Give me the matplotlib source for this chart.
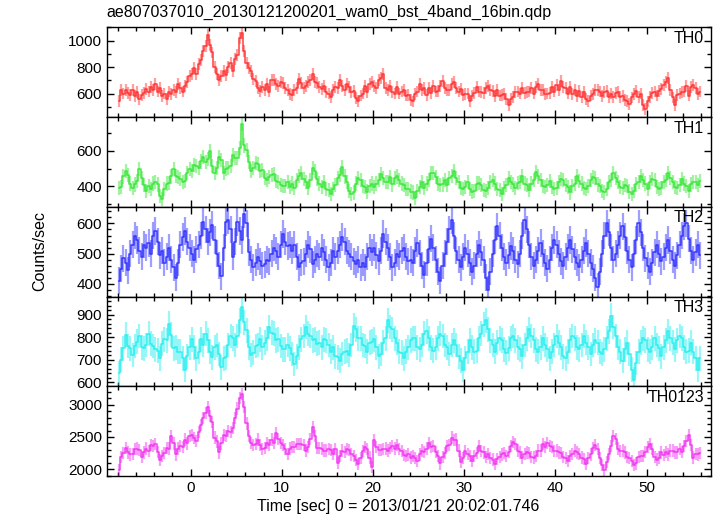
import numpy as np
import matplotlib.pyplot as plt
from matplotlib.ticker import MultipleLocator

plt.rcParams["font.family"] = ["Liberation Sans", "DejaVu Sans"]

# light curve bins: 0.25 s starting at t = -8 s (0 = 2013/01/21 20:02:01.746)
t_start = -8.0
bin_width = 0.25

th0 = [
    545, 625, 600, 630, 605, 590, 625, 580, 610, 555, 590, 605, 635, 615, 650, 625,
    670, 615, 640, 580, 600, 560, 615, 595, 630, 610, 670, 640, 615, 655, 690, 735,
    745, 790, 750, 820, 850, 920, 960, 1040, 970, 910, 800, 750, 700, 735, 770, 740,
    800, 830, 770, 860, 890, 1020, 1060, 920, 830, 790, 770, 710, 695, 640, 620, 650,
    630, 675, 615, 700, 705, 670, 655, 690, 680, 645, 625, 595, 590, 625, 640, 710,
    680, 640, 660, 690, 705, 745, 690, 680, 650, 635, 660, 610, 600, 575, 625, 650,
    640, 700, 655, 630, 675, 650, 610, 620, 565, 545, 585, 600, 655, 610, 675, 690,
    660, 640, 700, 715, 745, 640, 625, 655, 610, 600, 650, 600, 615, 630, 585, 590,
    550, 540, 595, 615, 670, 625, 640, 590, 640, 605, 660, 615, 620, 655, 695, 640,
    630, 625, 670, 690, 640, 615, 635, 590, 595, 600, 545, 585, 605, 650, 615, 610,
    605, 640, 655, 630, 620, 580, 630, 585, 590, 595, 560, 515, 560, 575, 610, 615,
    600, 640, 605, 610, 615, 640, 600, 650, 675, 630, 625, 595, 600, 605, 650, 615,
    665, 630, 695, 650, 640, 600, 650, 595, 625, 580, 620, 575, 610, 560, 545, 585,
    595, 630, 625, 615, 580, 610, 620, 570, 600, 575, 605, 615, 575, 580, 550, 545,
    520, 570, 595, 620, 575, 600, 515, 480, 540, 575, 605, 615, 585, 620, 635, 665,
    685, 720, 630, 570, 515, 590, 600, 610, 615, 660, 585, 650, 665, 645, 595, 615,
]

th1 = [
    390, 395, 455, 485, 465, 415, 390, 410, 430, 495, 445, 405, 375, 400, 385, 415,
    425, 410, 345, 330, 385, 415, 420, 455, 495, 460, 450, 440, 425, 430, 475, 495,
    485, 520, 515, 505, 540, 565, 535, 555, 600, 515, 475, 505, 565, 550, 475, 500,
    505, 515, 575, 560, 560, 615, 750, 630, 605, 535, 485, 505, 530, 525, 485, 490,
    445, 435, 450, 465, 470, 430, 425, 405, 400, 400, 425, 395, 415, 390, 435, 460,
    475, 440, 425, 390, 435, 505, 485, 440, 415, 395, 425, 385, 380, 355, 385, 405,
    445, 465, 510, 455, 425, 375, 355, 365, 415, 445, 435, 400, 395, 370, 400, 415,
    395, 415, 435, 470, 445, 425, 425, 450, 410, 445, 455, 435, 415, 405, 385, 385,
    370, 365, 335, 375, 395, 425, 390, 415, 435, 475, 475, 450, 415, 405, 410, 435,
    405, 445, 460, 485, 445, 425, 390, 385, 395, 425, 385, 370, 375, 415, 420, 405,
    380, 375, 390, 425, 435, 415, 385, 380, 355, 390, 405, 445, 425, 410, 390, 420,
    425, 460, 415, 405, 380, 415, 435, 480, 455, 435, 400, 395, 405, 430, 395, 385,
    390, 425, 440, 435, 405, 395, 365, 400, 415, 455, 430, 415, 390, 385, 400, 435,
    450, 445, 410, 400, 375, 365, 385, 425, 435, 475, 445, 425, 395, 390, 405, 400,
    370, 355, 375, 410, 425, 460, 435, 415, 385, 425, 440, 435, 395, 385, 390, 425,
    435, 475, 445, 425, 395, 390, 405, 440, 415, 400, 375, 410, 425, 425, 405, 430,
]

th2 = [
    410, 450, 485, 470, 445, 500, 530, 560, 545, 510, 490, 530, 520, 535, 500, 560,
    575, 540, 495, 510, 470, 490, 520, 480, 455, 420, 470, 530, 555, 575, 540, 520,
    500, 480, 515, 530, 560, 605, 580, 540, 570, 595, 545, 500, 460, 425, 520, 605,
    610, 580, 490, 540, 605, 575, 545, 630, 600, 505, 480, 455, 470, 490, 475, 460,
    465, 480, 475, 500, 520, 510, 490, 530, 565, 540, 525, 530, 510, 530, 490, 455,
    470, 475, 500, 530, 515, 465, 480, 500, 490, 520, 505, 480, 455, 470, 510, 490,
    510, 530, 555, 540, 510, 500, 490, 475, 465, 480, 455, 470, 455, 490, 520, 505,
    520, 495, 475, 510, 565, 540, 520, 490, 455, 470, 500, 490, 510, 520, 490, 475,
    480, 470, 510, 535, 500, 460, 430, 470, 515, 550, 520, 480, 440, 410, 460, 500,
    540, 580, 610, 560, 510, 480, 455, 490, 520, 500, 470, 440, 460, 500, 530, 505,
    480, 420, 380, 440, 500, 545, 590, 560, 520, 490, 470, 495, 525, 510, 480, 465,
    500, 560, 610, 580, 530, 490, 460, 480, 510, 535, 500, 470, 450, 480, 520, 545,
    530, 500, 475, 460, 490, 520, 545, 515, 490, 470, 455, 480, 510, 535, 500, 470,
    450, 420, 390, 440, 500, 560, 600, 570, 520, 480, 500, 530, 560, 590, 555, 510,
    480, 455, 500, 545, 600, 570, 520, 485, 460, 440, 470, 505, 530, 500, 475, 490,
    520, 545, 510, 480, 460, 495, 530, 560, 590, 600, 550, 510, 480, 505, 530, 495,
]

th3 = [
    640, 700, 750, 810, 760, 750, 720, 760, 780, 805, 755, 750, 765, 815, 770, 760,
    745, 740, 705, 770, 790, 785, 860, 810, 750, 755, 735, 735, 705, 655, 715, 755,
    790, 755, 705, 735, 790, 765, 815, 785, 735, 710, 755, 765, 725, 665, 705, 710,
    765, 805, 795, 765, 805, 875, 935, 865, 830, 755, 720, 730, 760, 765, 790, 755,
    775, 795, 845, 820, 815, 785, 790, 760, 745, 745, 765, 750, 725, 680, 715, 755,
    790, 805, 845, 815, 805, 785, 790, 770, 775, 755, 790, 785, 765, 735, 755, 715,
    710, 695, 725, 735, 740, 720, 765, 850, 835, 795, 795, 765, 760, 735, 775, 780,
    790, 755, 715, 725, 775, 795, 875, 845, 835, 795, 775, 735, 730, 705, 735, 755,
    785, 795, 795, 755, 745, 765, 815, 825, 795, 755, 740, 755, 795, 815, 805, 765,
    755, 725, 765, 785, 765, 715, 695, 655, 705, 735, 785, 755, 735, 740, 795, 815,
    855, 875, 835, 785, 765, 735, 775, 795, 785, 745, 730, 750, 795, 805, 785, 755,
    745, 715, 765, 795, 835, 805, 785, 745, 735, 755, 795, 765, 745, 705, 735, 765,
    805, 775, 755, 715, 705, 735, 785, 805, 795, 755, 745, 765, 805, 775, 755, 725,
    765, 785, 775, 735, 725, 745, 795, 825, 895, 845, 805, 755, 735, 695, 745, 775,
    725, 655, 610, 685, 735, 775, 795, 785, 745, 735, 755, 795, 765, 750, 715, 755,
    785, 825, 795, 775, 745, 785, 805, 795, 755, 735, 740, 775, 735, 705, 655, 705,
]

th0123 = [
    1990, 2190, 2250, 2330, 2260, 2230, 2240, 2310, 2320, 2300, 2190, 2260, 2320, 2280, 2370, 2360,
    2390, 2270, 2140, 2210, 2250, 2330, 2320, 2510, 2400, 2230, 2320, 2360, 2340, 2460, 2400, 2520,
    2530, 2480, 2440, 2580, 2690, 2800, 2870, 2970, 2820, 2730, 2490, 2430, 2260, 2400, 2530, 2520,
    2590, 2580, 2640, 2790, 2940, 3110, 3170, 2960, 2710, 2520, 2410, 2370, 2390, 2460, 2370, 2310,
    2330, 2410, 2370, 2460, 2410, 2560, 2470, 2410, 2370, 2310, 2240, 2320, 2340, 2340, 2390, 2390,
    2390, 2370, 2290, 2350, 2470, 2660, 2510, 2330, 2330, 2320, 2290, 2290, 2310, 2300, 2240, 2310,
    2100, 2210, 2290, 2270, 2310, 2300, 2230, 2210, 2140, 2080, 2170, 2280, 2340, 2310, 2180, 2040,
    2450, 2340, 2300, 2300, 2310, 2320, 2290, 2330, 2360, 2320, 2380, 2310, 2280, 2220, 2200, 2230,
    2180, 2200, 2170, 2130, 2230, 2290, 2270, 2320, 2410, 2350, 2360, 2270, 2210, 2090, 2190, 2250,
    2360, 2370, 2490, 2450, 2460, 2290, 2110, 2170, 2280, 2240, 2210, 2130, 2210, 2250, 2360, 2280,
    2260, 2190, 2240, 2170, 2150, 2080, 2160, 2190, 2230, 2250, 2210, 2270, 2360, 2420, 2390, 2290,
    2260, 2180, 2240, 2260, 2250, 2190, 2180, 2210, 2290, 2290, 2390, 2340, 2410, 2360, 2340, 2280,
    2290, 2260, 2250, 2190, 2170, 2130, 2210, 2240, 2290, 2260, 2240, 2180, 2160, 2080, 2170, 2230,
    2330, 2370, 2310, 2170, 2060, 1990, 2110, 2240, 2360, 2520, 2470, 2320, 2280, 2290, 2260, 2190,
    2170, 2130, 2070, 2090, 2190, 2210, 2210, 2270, 2350, 2390, 2310, 2190, 2150, 2180, 2260, 2220,
    2270, 2230, 2290, 2290, 2260, 2260, 2310, 2270, 2360, 2440, 2530, 2370, 2180, 2240, 2230, 2250,
]

bands = ["TH0", "TH1", "TH2", "TH3", "TH0123"]
rates = [th0, th1, th2, th3, th0123]
errors = [45, 40, 45, 55, 95]  # typical 1-sigma error per band (counts/sec)
colors = ["#ff2a2a", "#33e633", "#2a2aff", "#22eeee", "#f02ff0"]
ylims = [(422, 1100), (284, 790), (358, 655), (581, 980), (1895, 3286)]
major_step = [200, 200, 100, 100, 500]
minor_step = [100, 100, 20, 20, 100]


def main():
    fig = plt.figure(figsize=(7.17, 5.16), dpi=100)
    axes = fig.subplots(5, 1, sharex=True, gridspec_kw=dict(hspace=0))
    fig.subplots_adjust(left=0.149, right=0.992, top=0.947, bottom=0.0775)

    for i, ax in enumerate(axes):
        y = np.array(rates[i], dtype=float)
        t = t_start + bin_width / 2 + bin_width * np.arange(len(y))
        err = errors[i]
        c = colors[i]

        # pale error bars, then the binned rate as a step line
        ax.vlines(t, y - err, y + err, color=c, alpha=0.45, lw=1.6)
        ax.plot(t, y, drawstyle="steps-mid", color=c, lw=1.1, alpha=0.9)

        ax.set_ylim(*ylims[i])
        ax.set_xlim(-9.2, 57.1)
        ax.yaxis.set_major_locator(MultipleLocator(major_step[i]))
        ax.yaxis.set_minor_locator(MultipleLocator(minor_step[i]))
        ax.xaxis.set_major_locator(MultipleLocator(10))
        ax.xaxis.set_minor_locator(MultipleLocator(2))
        ax.tick_params(which="both", direction="in", top=True, right=True,
                       labelsize=11, width=1.0)
        ax.tick_params(which="major", length=5)
        ax.tick_params(which="minor", length=2.8)
        for s in ax.spines.values():
            s.set_linewidth(1.0)

        ax.text(0.988, 0.96, bands[i], transform=ax.transAxes,
                ha="right", va="top", fontsize=11.5)

    fig.text(0.149, 0.976, "ae807037010_20130121200201_wam0_bst_4band_16bin.qdp",
             ha="left", va="center", fontsize=11.5)
    fig.text(0.056, 0.513, "Counts/sec", rotation=90, ha="center", va="center",
             fontsize=11.5)
    fig.text(0.556, 0.019, "Time [sec] 0 = 2013/01/21 20:02:01.746",
             ha="center", va="center", fontsize=11.5)

    fig.savefig("out.png", dpi=100)


if __name__ == "__main__":
    main()
